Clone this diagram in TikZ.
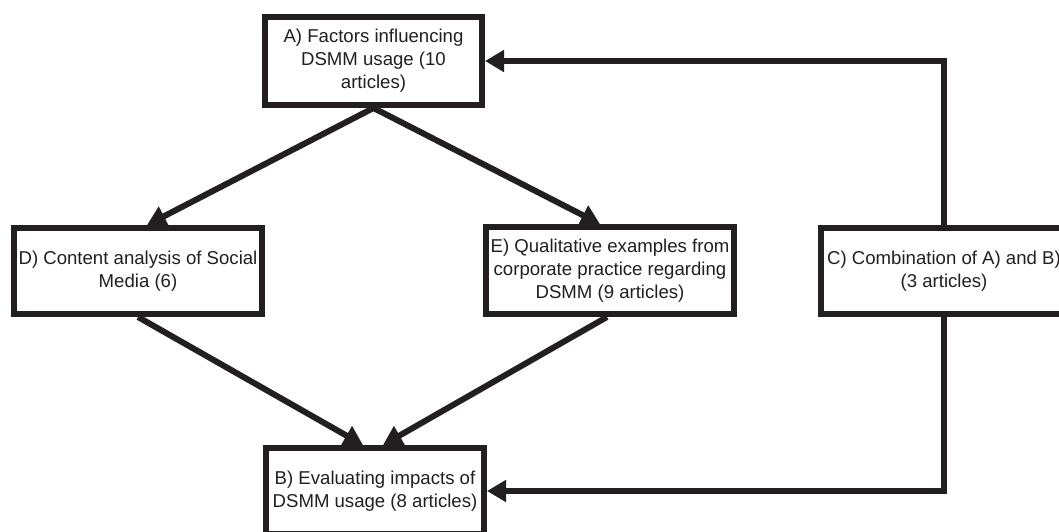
\documentclass[tikz,border=0pt]{standalone}
\usepackage{fontspec}
\setmainfont{Liberation Sans}
\usetikzlibrary{arrows.meta,positioning,calc}
\definecolor{ink}{HTML}{231F20}
\begin{document}
\begin{tikzpicture}[x=1pt,y=-1pt,
  box/.style={draw=ink, line width=6pt, fill=white, align=center, text=ink,
    font=\fontsize{18.6}{23}\selectfont, inner sep=0pt},
  conn/.style={draw=ink, line width=6pt, -{Triangle[length=19pt,width=21pt]}}]
\useasboundingbox (0,0) rectangle (1059,532);
\clip (0,0) rectangle (1059,532);
\fill[white] (0,0) rectangle (1059,532);

\node[box, minimum width=217pt, minimum height=88pt] (A) at (373.5,61)
  {A) Factors influencing\\DSMM usage (10\\articles)};
\node[box, minimum width=248pt, minimum height=86pt] (D) at (138,271)
  {D) Content analysis of Social\\Media (6)};
\node[box, minimum width=248pt, minimum height=87pt] (E) at (610,270.5)
  {E) Qualitative examples from\\corporate practice regarding\\DSMM (9 articles)};
\node[box, minimum width=246pt, minimum height=86pt] (C) at (944,271)
  {C) Combination of A) and B)\\(3 articles)};
\node[box, minimum width=218pt, minimum height=86pt] (B) at (375,491)
  {B) Evaluating impacts of\\DSMM usage (8 articles)};

\draw[conn] (A.south) -- ([xshift=9pt]D.north);
\draw[conn] (A.south) -- ([xshift=-10pt]E.north);
\draw[conn] (D.south) -- ([xshift=-12pt]B.north);
\draw[conn] ([xshift=-3pt]E.south) -- ([xshift=8pt]B.north);
\draw[conn] (C.north) |- (A.east);
\draw[conn] (C.south) |- (B.east);
\end{tikzpicture}
\end{document}
